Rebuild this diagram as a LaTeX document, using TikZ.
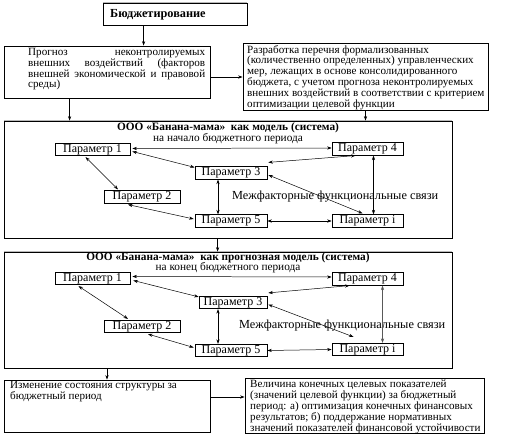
\documentclass[tikz,border=0pt]{standalone}
\usepackage{fontspec}
\setmainfont{Liberation Serif}
\usetikzlibrary{arrows.meta,calc,fit}
\newcommand{\fsbox}{\fontsize{11.1bp}{10.8bp}\selectfont}
\newcommand{\fsttl}{\fontsize{11.3bp}{11bp}\selectfont}
\newcommand{\fspar}{\fontsize{12bp}{12bp}\selectfont}
\newcommand{\fsmid}{\fontsize{12.3bp}{12bp}\selectfont}
\tikzset{
  box/.style={draw, line width=0.8pt, inner sep=0pt},
  grayedge/.style={draw=gray!55, line width=1.3pt},
  txt/.style={anchor=north west, inner sep=0pt, align=left, font=\fsbox},
  pbox/.style={draw, line width=0.7pt, inner sep=0pt, minimum height=12.5bp, font=\fspar},
  dar/.style={{Stealth[length=4.5pt,width=3.2pt]}-{Stealth[length=4.5pt,width=3.2pt]}, line width=0.5pt},
  ar/.style={-{Stealth[length=4.5pt,width=3.2pt]}, line width=0.6pt},
  ttl/.style={inner sep=0pt, font=\fsttl\bfseries},
  sub/.style={inner sep=0pt, font=\fsttl},
  mid/.style={anchor=west, inner sep=0pt, font=\fsmid},
}
\begin{document}
\begin{tikzpicture}[x=1bp,y=-1bp]
\useasboundingbox (0,0) rectangle (505,437);
% top box
\node[box, fit={(103,3) (247,25)}] (top) {};
\draw[grayedge] (top.north west) -- (top.north east);
\node[anchor=west, inner sep=0pt, font=\fontsize{12.3bp}{12bp}\selectfont\bfseries] (toptxt) at (110,15) {Бюджетирование};
% box 2
\node[box, fit={(4,46) (210,98)}] (b2) {};
\node[txt, text width=177bp] (b2t) at (28,48) {%
Прогноз\hfill неконтролируемых\\
внешних\hfill воздействий\hfill (факторов\\
внешней\hfill экономической\hfill и\hfill правовой\\
среды)};
% box 3
\node[box, fit={(243,43) (488,110)}] (b3) {};
\node[txt] (b3t) at (247,45) {Разработка перечня формализованных\\
(количественно определенных) управленческих\\
мер, лежащих в основе консолидированного\\
бюджета, с учетом прогноза неконтролируемых\\
внешних воздействий в соответствии с критерием\\
оптимизации целевой функции};
% frames
\node[box, fit={(4,121) (452,238)}] (f1) {};
\draw[grayedge] (f1.north west) -- (f1.north east);
\node[box, fit={(4,252) (452,368)}] (f2) {};
\draw[grayedge] (f2.north west) -- (f2.north east);
% frame 1 contents
\node[ttl] (t1) at (228,128) {ООО «Банана-мама»\ \ как модель (система)};
\node[sub] (s1) at (228,138.5) {на начало бюджетного периода};
\node[pbox, minimum width=75bp] (p1) at (92.5,149.5) {Параметр 1};
\node[pbox, minimum width=72bp] (p3) at (231,173) {Параметр 3};
\node[pbox, minimum width=76bp] (p2) at (142,197) {Параметр 2};
\node[pbox, minimum width=72bp] (p5) at (231,221) {Параметр 5};
\node[pbox, minimum width=71bp] (p4) at (367.5,149) {Параметр 4};
\node[pbox, minimum width=71bp] (pi) at (367.5,221) {Параметр i};
\node[mid] (m1) at (232,197) {Межфакторные функциональные связи};
% frame 2 contents
\node[ttl] (t2) at (228,258) {ООО «Банана-мама»\ \ как прогнозная модель (система)};
\node[sub] (s2) at (228,268) {на конец бюджетного периода};
\node[pbox, minimum width=75bp] (q1) at (92.5,278.5) {Параметр 1};
\node[pbox, minimum width=68bp] (q3) at (233,302.5) {Параметр 3};
\node[pbox, minimum width=76bp] (q2) at (142,326.5) {Параметр 2};
\node[pbox, minimum width=72bp] (q5) at (231,350.5) {Параметр 5};
\node[pbox, minimum width=71bp] (q4) at (367.5,279) {Параметр 4};
\node[pbox, minimum width=71bp] (qi) at (367.5,349.5) {Параметр i};
\node[mid] (m2) at (239,326) {Межфакторные функциональные связи};
% box 4, 5
\node[box, fit={(4,380) (210,432)}] (b4) {};
\node[txt] (b4t) at (10,381) {Изменение состояния структуры за\\бюджетный период};
\node[box, fit={(245,378) (484,433)}] (b5) {};
\node[txt] (b5t) at (250,380) {Величина конечных целевых показателей\\
(значений целевой функции) за бюджетный\\
период: а) оптимизация конечных финансовых\\
результатов; б) поддержание нормативных\\
значений показателей финансовой устойчивости};
% flow arrows
\coordinate (a1) at ($(top.south west)+(41,0)$);
\draw[ar] (a1) -- (a1 |- b2.north);
\coordinate (a2) at ($(b2.east)+(0,5)$);
\draw[ar] (a2) -- (a2 -| b3.west);
\coordinate (a3) at ($(b2.south west)+(66,0)$);
\draw[ar] (a3) -- (a3 |- f1.north);
\draw[ar] (b3.south) -- (b3.south |- f1.north);
\coordinate (a4) at ($(f1.south west)+(214,0)$);
\draw[ar] (a4) -- (a4 |- f2.north);
\draw[ar] (b4.north |- f2.south) -- (b4.north);
\coordinate (a5) at ($(b4.east)+(0,-9)$);
\draw[ar] (a5) -- (a5 -| b5.west);
% frame 1 links
\draw[dar] ($(p1.east)+(2,-1)$) -- ($(p4.west)+(0,-1)$);
\draw[dar] ($(p1.east)+(2,2)$) -- ($(p3.north west)+(0,1)$);
\draw[dar] ($(p1.south)+(-7,1)$) -- ($(p2.north)+(-24,-1)$);
\draw[dar] ($(p2.south)+(-14,1)$) -- ($(p5.west)+(-1,-2)$);
\draw[dar] ($(p3.south)+(-13,0)$) -- ($(p5.north)+(-13,0)$);
\draw[dar] ($(p3.north east)+(1,-4)$) -- ($(p4.south)+(-12,0)$);
\draw[dar] ($(p3.east)+(1,2)$) -- ($(pi.north)+(-5,-1)$);
\draw[dar] ($(p4.south)+(6,0)$) -- ($(pi.north)+(6,0)$);
\draw[dar] (p5.east) -- (pi.west);
% frame 2 links
\draw[dar] ($(q1.east)+(2,-2)$) -- ($(q4.west)+(0,-2)$);
\draw[dar] ($(q1.east)+(3,2)$) -- ($(q3.north west)+(0,1)$);
\draw[dar] ($(q1.south)+(-14,1)$) -- ($(q2.north)+(-14,-1)$);
\draw[dar] ($(q2.south)+(6,1)$) -- ($(q5.west)+(-1,-3)$);
\draw[dar] ($(q3.south)+(-15,0)$) -- ($(q5.north)+(-13,0)$);
\draw[dar] ($(q3.north east)+(1,-3)$) -- ($(q4.south)+(-18,0)$);
\draw[dar] ($(q3.east)+(1,2)$) -- ($(qi.north)+(-14,-6)$);
\draw[dar, draw=gray!70!black] ($(q4.south)+(15,0)$) -- ($(qi.north)+(15,0)$);
\draw[dar] (q5.east) -- (qi.west);
\end{tikzpicture}
\end{document}
